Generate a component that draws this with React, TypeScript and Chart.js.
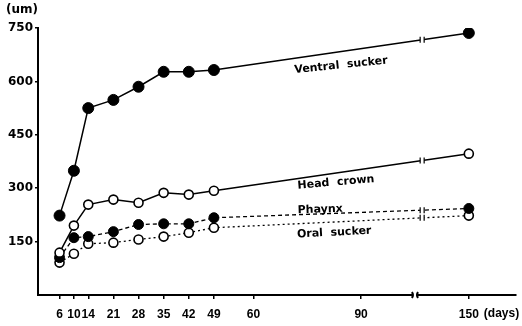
import React, { useEffect, useRef } from 'react';
import { Chart, registerables } from 'chart.js';

Chart.register(...registerables);

// ---- data ----
const days = [6, 10, 14, 21, 28, 35, 42, 49, 150];
const ventralSucker = [223, 349, 525, 548, 585, 627, 627, 632, 736];
const headCrown = [119, 195, 254, 268, 259, 287, 282, 293, 397];
const pharynx = [105, 161, 164, 178, 198, 200, 200, 217, 243];
const oralSucker = [91, 116, 144, 147, 156, 164, 175, 189, 223];
const seriesNames = ['Ventral sucker', 'Head crown', 'Phaynx', 'Oral sucker'];
const xTickDays = [6, 10, 14, 21, 28, 35, 42, 49, 60, 90, 150];
const yTicks = [150, 300, 450, 600, 750];
const yUnit = '(um)';
const xUnit = '(days)';

// axis break: days after BREAK_START are compressed
const BREAK_START = 105;
const BREAK_RATIO = 15 / 45;
const toAxis = (d: number) => (d <= BREAK_START ? d : BREAK_START + (d - BREAK_START) * BREAK_RATIO);
const fromAxis = (v: number) => (v <= BREAK_START ? v : BREAK_START + (v - BREAK_START) / BREAK_RATIO);

const FONT = 'DejaVu Sans';
const XFONT = 'Liberation Sans';

// series label placements (data units: axis-x, value-y, angle in degrees)
const labelPlacements = [
  { x: 84.4, y: 645, angle: -6 },
  { x: 83, y: 316, angle: -5 },
  { x: 78.6, y: 240, angle: -2 },
  { x: 82.5, y: 175, angle: -3 },
];

const annotatePlugin = {
  id: 'annotate',
  afterDatasetsDraw(chart: any) {
    const { ctx, scales } = chart;
    const xs = scales.x;
    const ys = scales.y;
    ctx.save();
    // line break marks
    const bx = xs.getPixelForValue(107);
    chart.data.datasets.forEach((ds: any) => {
      const pts = ds.data;
      const a = pts[pts.length - 2];
      const b = pts[pts.length - 1];
      const t = (107 - a.x) / (b.x - a.x);
      const yv = a.y + (b.y - a.y) * t;
      const by = ys.getPixelForValue(yv);
      ctx.fillStyle = '#fff';
      ctx.fillRect(bx - 2, by - 3, 4, 6);
      ctx.strokeStyle = '#000';
      ctx.lineWidth = 1.2;
      ctx.setLineDash([]);
      ctx.beginPath();
      ctx.moveTo(bx - 2, by - 3);
      ctx.lineTo(bx - 2, by + 3);
      ctx.moveTo(bx + 2, by - 3);
      ctx.lineTo(bx + 2, by + 3);
      ctx.stroke();
    });
    ctx.restore();
  },
  afterDraw(chart: any) {
    const { ctx, scales } = chart;
    const xs = scales.x;
    const ys = scales.y;
    ctx.save();
    // x axis break
    const ax = xs.getPixelForValue(BREAK_START);
    const ay = ys.getPixelForValue(0);
    ctx.fillStyle = '#fff';
    ctx.fillRect(ax - 2, ay - 3, 5, 6);
    ctx.strokeStyle = '#000';
    ctx.lineWidth = 2;
    ctx.beginPath();
    ctx.moveTo(ax - 3, ay + 3);
    ctx.quadraticCurveTo(ax - 1, ay, ax - 3, ay - 3);
    ctx.moveTo(ax + 3, ay + 3);
    ctx.quadraticCurveTo(ax + 1, ay, ax + 3, ay - 3);
    ctx.stroke();

    ctx.fillStyle = '#000';
    // units
    ctx.font = `bold 12px ${FONT}`;
    ctx.textBaseline = 'middle';
    ctx.textAlign = 'left';
    ctx.fillText(yUnit, 6, 10);
    ctx.font = `bold 12px ${XFONT}`;
    ctx.fillText(xUnit, xs.getPixelForValue(toAxis(150)) + 15, ay + 19);

    // series labels
    ctx.font = `bold 11px ${FONT}`;
    ctx.textAlign = 'center';
    seriesNames.forEach((name, i) => {
      const p = labelPlacements[i];
      ctx.save();
      ctx.translate(xs.getPixelForValue(p.x), ys.getPixelForValue(p.y));
      ctx.rotate((p.angle * Math.PI) / 180);
      ctx.fillText(name.replace(' ', '  '), 0, 0);
      ctx.restore();
    });
    ctx.restore();
  },
};

export default function App() {
  const ref = useRef<HTMLCanvasElement | null>(null);
  useEffect(() => {
    document.body.style.margin = '0';
    const mk = (vals: number[]) => days.map((d, i) => ({ x: toAxis(d), y: vals[i] }));
    const chart = new Chart(ref.current as HTMLCanvasElement, {
      type: 'line',
      data: {
        datasets: [
          {
            label: seriesNames[0],
            data: mk(ventralSucker),
            borderColor: '#000',
            borderWidth: 1.5,
            pointRadius: 5.5,
            pointBackgroundColor: '#000',
            pointBorderColor: '#000',
            pointBorderWidth: 1,
          },
          {
            label: seriesNames[1],
            data: mk(headCrown),
            borderColor: '#000',
            borderWidth: 1.5,
            pointRadius: 4.5,
            pointBackgroundColor: '#fff',
            pointBorderColor: '#000',
            pointBorderWidth: 1.6,
          },
          {
            label: seriesNames[2],
            data: mk(pharynx),
            borderColor: '#000',
            borderWidth: 1.3,
            borderDash: [4, 3],
            pointRadius: 5,
            pointBackgroundColor: '#000',
            pointBorderColor: '#000',
            pointBorderWidth: 1,
          },
          {
            label: seriesNames[3],
            data: mk(oralSucker),
            borderColor: '#000',
            borderWidth: 1.3,
            borderDash: [2, 3],
            pointRadius: 4.5,
            pointBackgroundColor: '#fff',
            pointBorderColor: '#000',
            pointBorderWidth: 1.6,
          },
        ],
      },
      options: {
        responsive: false,
        animation: false,
        layout: { padding: { top: 28, right: 2, left: 0, bottom: 0 } },
        plugins: { legend: { display: false }, tooltip: { enabled: false } },
        elements: { line: { tension: 0 } },
        scales: {
          x: {
            type: 'linear',
            min: 0,
            max: 133,
            grid: { drawOnChartArea: false, drawTicks: true, tickLength: 4, color: '#000', lineWidth: 1.5 },
            border: { display: true, color: '#000', width: 2 },
            ticks: {
              autoSkip: false,
              maxRotation: 0,
              padding: 8,
              color: '#000',
              font: { family: XFONT, size: 12, weight: 'bold' },
              callback: (v: any) => String(Math.round(fromAxis(Number(v)))),
            },
            afterBuildTicks: (s: any) => {
              s.ticks = xTickDays.map((d) => ({ value: toAxis(d) }));
            },
            afterFit: (s: any) => {
              s.height = 31;
            },
          },
          y: {
            type: 'linear',
            min: 0,
            max: 750,
            grid: { drawOnChartArea: false, drawTicks: true, tickLength: 3, color: '#000', lineWidth: 1.5 },
            border: { display: true, color: '#000', width: 2 },
            ticks: {
              padding: 2,
              color: '#000',
              font: { family: FONT, size: 12, weight: 'bold' },
            },
            afterBuildTicks: (s: any) => {
              s.ticks = yTicks.map((v) => ({ value: v }));
            },
            afterFit: (s: any) => {
              s.width = 38;
            },
          },
        },
      },
      plugins: [annotatePlugin],
    } as any);
    return () => chart.destroy();
  }, []);
  return (
    <div style={{ position: 'absolute', left: 0, top: 0, width: 522, height: 326, background: '#fff' }}>
      <canvas ref={ref} width={522} height={326} style={{ display: 'block' }} />
    </div>
  );
}
